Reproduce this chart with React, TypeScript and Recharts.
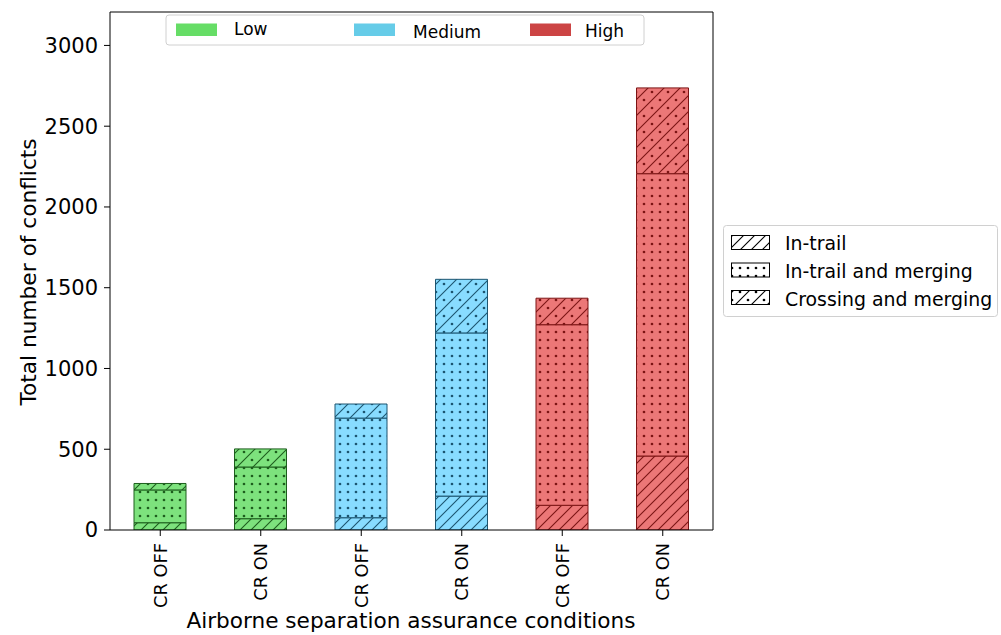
import { BarChart, Bar, Cell, XAxis, YAxis } from "recharts";

const categories = ["CR OFF", "CR ON", "CR OFF", "CR ON", "CR OFF", "CR ON"];
const levels = ["low", "low", "medium", "medium", "high", "high"];
const inTrail = [45, 70, 76, 210, 153, 458];
const inTrailMerging = [203, 320, 617, 1010, 1118, 1748];
const crossingMerging = [40, 112, 87, 332, 164, 531];
const yTicks = [0, 500, 1000, 1500, 2000, 2500, 3000];

const levelNames = ["Low", "Medium", "High"];
const typeNames = ["In-trail", "In-trail and merging", "Crossing and merging"];

const fillColor: Record<string, string> = {
  low: "#7de27d",
  medium: "#88dcff",
  high: "#ec7777",
  legend: "#ffffff",
};
const hatchColor: Record<string, string> = {
  low: "#1d5e1d",
  medium: "#1c5570",
  high: "#7c1414",
  legend: "#000000",
};
const swatchColor: Record<string, string> = {
  Low: "#66dd66",
  Medium: "#66cce8",
  High: "#cc4444",
};

const data = categories.map((c, i) => ({
  key: `${c}-${i}`,
  label: c,
  level: levels[i],
  inTrail: inTrail[i],
  merging: inTrailMerging[i],
  crossing: crossingMerging[i],
}));

const FONT = "'DejaVu Sans', sans-serif";

const Patterns = () => (
  <defs>
    {Object.keys(fillColor).map((lv) => (
      <g key={lv}>
        <pattern id={`it-${lv}`} width={11} height={11} patternUnits="userSpaceOnUse">
          <rect width={11} height={11} fill={fillColor[lv]} />
          <path d="M0,11 L11,0 M-1,1 L1,-1 M10,12 L12,10" stroke={hatchColor[lv]} strokeWidth={1.1} />
        </pattern>
        <pattern id={`mg-${lv}`} width={8} height={8} patternUnits="userSpaceOnUse">
          <rect width={8} height={8} fill={fillColor[lv]} />
          <circle cx={4} cy={4} r={1.35} fill={hatchColor[lv]} />
        </pattern>
        <pattern id={`cr-${lv}`} width={16} height={16} patternUnits="userSpaceOnUse">
          <rect width={16} height={16} fill={fillColor[lv]} />
          <path d="M0,16 L16,0 M-1,1 L1,-1 M15,17 L17,15" stroke={hatchColor[lv]} strokeWidth={1.1} />
          <circle cx={4} cy={4} r={1.35} fill={hatchColor[lv]} />
          <circle cx={12} cy={12} r={1.35} fill={hatchColor[lv]} />
        </pattern>
      </g>
    ))}
  </defs>
);

const XTick = (props: any) => {
  const { x, y, index } = props;
  return (
    <g>
      <text
        x={x + 6.5}
        y={y + 3}
        transform={`rotate(-90, ${x + 6.5}, ${y + 3})`}
        textAnchor="end"
        fontSize={17.8}
        fontFamily={FONT}
        fill="#000"
      >
        {data[index]?.label}
      </text>
    </g>
  );
};

const App = () => {
  const prefixes = ["it", "mg", "cr"];
  return (
    <div style={{ position: "absolute", left: 0, top: 0, width: 1001, height: 635, background: "#fff" }}>
      <BarChart
        width={1001}
        height={635}
        data={data}
        margin={{ top: 11, right: 287, bottom: 5, left: 50 }}
        barSize={52}
      >
        <XAxis
          dataKey="key"
          height={100}
          interval={0}
          tick={<XTick />}
          tickSize={6}
          tickMargin={4}
          stroke="#000"
          axisLine={{ stroke: "#000", strokeWidth: 1 }}
          tickLine={{ stroke: "#000" }}
        />
        <XAxis
          xAxisId="top"
          dataKey="key"
          orientation="top"
          height={1}
          tick={false}
          tickLine={false}
          axisLine={{ stroke: "#000", strokeWidth: 1 }}
        />
        <YAxis
          width={60}
          domain={[0, 3207]}
          ticks={yTicks}
          tickSize={6}
          tickMargin={6}
          allowDataOverflow
          tick={{ fontSize: 21, fontFamily: FONT, fill: "#000" }}
          axisLine={{ stroke: "#000", strokeWidth: 1 }}
          tickLine={{ stroke: "#000" }}
        />
        <YAxis
          yAxisId="right"
          orientation="right"
          width={1}
          tick={false}
          tickLine={false}
          axisLine={{ stroke: "#000", strokeWidth: 1 }}
        />
        {(["inTrail", "merging", "crossing"] as const).map((k, si) => (
          <Bar key={k} dataKey={k} stackId="a" isAnimationActive={false}>
            {data.map((d, i) => (
              <Cell key={i} fill={`url(#${prefixes[si]}-${d.level})`} stroke={hatchColor[d.level]} strokeWidth={1} />
            ))}
          </Bar>
        ))}
      </BarChart>
      <svg
        width={1001}
        height={635}
        style={{ position: "absolute", left: 0, top: 0, pointerEvents: "none" }}
      >
        <Patterns />
        <text
          x={36}
          y={272}
          transform="rotate(-90, 36, 272)"
          textAnchor="middle"
          fontSize={21.7}
          fontFamily={FONT}
          fill="#000"
        >
          Total number of conflicts
        </text>
        <text x={411} y={628} textAnchor="middle" fontSize={21.6} fontFamily={FONT} fill="#000">
          Airborne separation assurance conditions
        </text>
        <rect x={166} y={15} width={478} height={30} rx={3} fill="#fff" fillOpacity={0.85} stroke="#d0d0d0" />
        {levelNames.map((n, i) => {
          const sx = [176, 354, 530][i];
          const tx = [234, 413, 585][i];
          const ty = [35, 38, 37][i];
          return (
            <g key={n}>
              <rect x={sx} y={23.5} width={41} height={12.5} fill={swatchColor[n]} />
              <text x={tx} y={ty} fontSize={17} fontFamily={FONT} fill="#000">
                {n}
              </text>
            </g>
          );
        })}
        <rect x={723.5} y={225.5} width={274} height={91} rx={3} fill="#fff" stroke="#d0d0d0" />
        {typeNames.map((n, i) => (
          <g key={n}>
            <rect
              x={731.5}
              y={235.5 + i * 27.5}
              width={38}
              height={14}
              fill={`url(#${prefixes[i]}-legend)`}
              stroke="#000"
              strokeWidth={1}
            />
            <text x={785} y={249.5 + i * 28} fontSize={18.9} fontFamily={FONT} fill="#000">
              {n}
            </text>
          </g>
        ))}
      </svg>
    </div>
  );
};

export default App;
